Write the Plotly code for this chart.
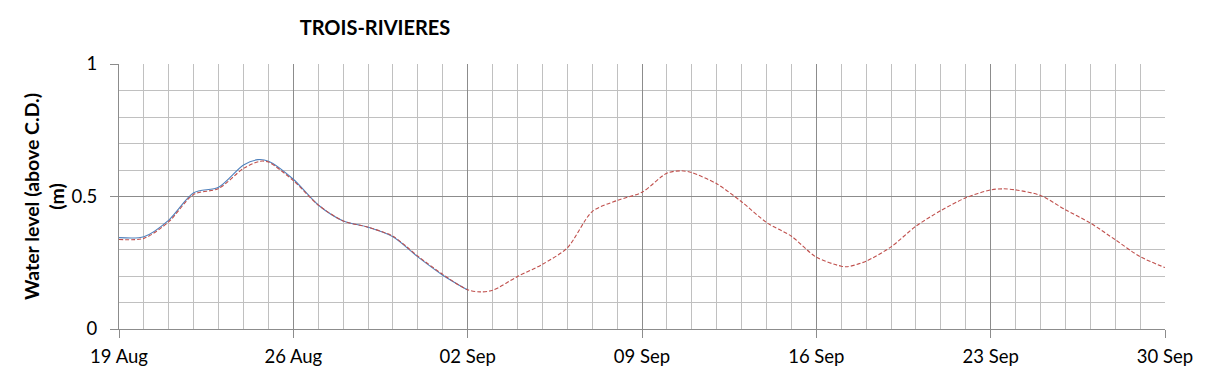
import plotly.graph_objects as go

# Predicted water level (red dashed)
pred_times = [
    "2019-08-19 00:00", "2019-08-20 00:00", "2019-08-21 00:00", "2019-08-22 00:00",
    "2019-08-23 00:00", "2019-08-24 00:00", "2019-08-24 16:00", "2019-08-25 00:00",
    "2019-08-26 00:00", "2019-08-27 00:00", "2019-08-28 00:00", "2019-08-29 00:00",
    "2019-08-30 00:00", "2019-08-31 00:00", "2019-09-01 00:00", "2019-09-02 00:00",
    "2019-09-02 12:00", "2019-09-03 00:00", "2019-09-04 00:00", "2019-09-05 00:00",
    "2019-09-06 00:00", "2019-09-07 00:00", "2019-09-08 00:00", "2019-09-09 00:00",
    "2019-09-10 00:00", "2019-09-10 14:00", "2019-09-11 00:00", "2019-09-12 00:00",
    "2019-09-13 00:00", "2019-09-14 00:00", "2019-09-15 00:00", "2019-09-16 00:00",
    "2019-09-17 00:00", "2019-09-17 06:00", "2019-09-18 00:00", "2019-09-19 00:00",
    "2019-09-20 00:00", "2019-09-21 00:00", "2019-09-22 00:00", "2019-09-23 00:00",
    "2019-09-23 12:00", "2019-09-24 00:00", "2019-09-25 00:00", "2019-09-26 00:00",
    "2019-09-27 00:00", "2019-09-28 00:00", "2019-09-29 00:00", "2019-09-30 00:00",
]
pred_levels = [
    0.338, 0.342, 0.405, 0.508,
    0.530, 0.606, 0.633, 0.630,
    0.560, 0.468, 0.408, 0.384,
    0.350, 0.275, 0.206, 0.148,
    0.140, 0.146, 0.198, 0.244,
    0.306, 0.443, 0.485, 0.516,
    0.588, 0.597, 0.590, 0.548,
    0.480, 0.402, 0.350, 0.271,
    0.237, 0.235, 0.256, 0.310,
    0.388, 0.447, 0.495, 0.525,
    0.529, 0.525, 0.504, 0.450,
    0.400, 0.337, 0.273, 0.232,
]

# Observed water level (blue solid)
obs_times = [
    "2019-08-19 00:00", "2019-08-20 00:00", "2019-08-21 00:00", "2019-08-22 00:00",
    "2019-08-23 00:00", "2019-08-24 00:00", "2019-08-24 14:00", "2019-08-25 00:00",
    "2019-08-26 00:00", "2019-08-27 00:00", "2019-08-28 00:00", "2019-08-29 00:00",
    "2019-08-30 00:00", "2019-08-31 00:00", "2019-09-01 00:00", "2019-09-02 00:00",
]
obs_levels = [
    0.345, 0.348, 0.411, 0.514,
    0.535, 0.619, 0.639, 0.633,
    0.565, 0.468, 0.408, 0.384,
    0.348, 0.272, 0.203, 0.147,
]

x_tick_vals = ["2019-08-19", "2019-08-26", "2019-09-02", "2019-09-09",
               "2019-09-16", "2019-09-23", "2019-09-30"]
x_tick_text = ["19 Aug", "26 Aug", "02 Sep", "09 Sep", "16 Sep", "23 Sep", "30 Sep"]
y_tick_vals = [0, 0.5, 1]
y_tick_text = ["0", "0.5", "1"]

MAJOR = "#8c8c8c"
MINOR = "#c0c0c0"
FONT = "Lato"

fig = go.Figure()
fig.add_trace(go.Scatter(
    x=obs_times, y=obs_levels, mode="lines",
    line=dict(color="#4f81bd", width=1.1, shape="spline", smoothing=0.8),
    showlegend=False, hoverinfo="skip",
))
fig.add_trace(go.Scatter(
    x=pred_times, y=pred_levels, mode="lines",
    line=dict(color="#c0504d", width=1.1, dash="4px,2px", shape="spline", smoothing=0.8),
    showlegend=False, hoverinfo="skip",
))

fig.update_layout(
    width=1209, height=378,
    margin=dict(l=119, r=44, t=64, b=49, autoexpand=False),
    paper_bgcolor="white", plot_bgcolor="white",
    font=dict(family=FONT, size=18, color="#000000"),
    title=dict(text="<b>TROIS-RIVIERES</b>", x=375 / 1209, xref="container",
               xanchor="center", y=1 - 28 / 378, yref="container", yanchor="middle",
               font=dict(family=FONT, size=20, color="#000000")),
)
fig.update_xaxes(
    type="date", range=["2019-08-19", "2019-09-30"], automargin=False,
    tickvals=x_tick_vals, ticktext=x_tick_text,
    showgrid=True, gridcolor=MAJOR, gridwidth=1,
    minor=dict(dtick=86400000, tick0="2019-08-19", showgrid=True, gridcolor=MINOR, gridwidth=1),
    showline=True, linecolor=MAJOR, linewidth=1,
    ticks="outside", ticklen=8, tickcolor=MAJOR, ticklabelstandoff=3,
    tickfont=dict(family=FONT, size=18.5), zeroline=False,
)
fig.update_yaxes(
    range=[0, 1], tickvals=y_tick_vals, ticktext=y_tick_text, automargin=False,
    showgrid=True, gridcolor=MAJOR, gridwidth=1,
    minor=dict(dtick=0.1, tick0=0, showgrid=True, gridcolor=MINOR, gridwidth=1),
    showline=True, linecolor=MAJOR, linewidth=1,
    ticks="outside", ticklen=8, tickcolor=MAJOR, ticklabelstandoff=9,
    tickfont=dict(family=FONT, size=18.5), zeroline=False,
    title=dict(text="<b>Water level (above C.D.)<br>(m)</b>",
               font=dict(family=FONT, size=19.5), standoff=1),
)

fig.write_html("out.html", config={"displayModeBar": False},
               post_script="document.body.style.margin='0';")
